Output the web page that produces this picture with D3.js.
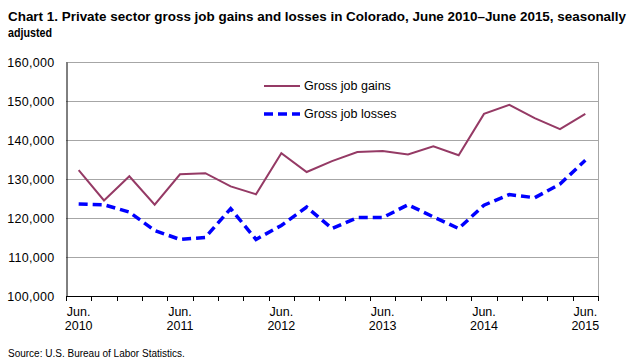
<!DOCTYPE html>
<html>
<head>
<meta charset="utf-8">
<script src="https://cdn.jsdelivr.net/npm/d3@7"></script>
<style>
  body { margin: 0; background: #fff; }
  svg { font-family: "Liberation Sans", Arial, sans-serif; }
</style>
</head>
<body>
<svg id="chart" width="640" height="364"></svg>
<script>
// quarters, June 2010 to June 2015
const quarters = ["Jun. 2010", "Sep. 2010", "Dec. 2010", "Mar. 2011", "Jun. 2011", "Sep. 2011", "Dec. 2011",
  "Mar. 2012", "Jun. 2012", "Sep. 2012", "Dec. 2012", "Mar. 2013", "Jun. 2013", "Sep. 2013", "Dec. 2013",
  "Mar. 2014", "Jun. 2014", "Sep. 2014", "Dec. 2014", "Mar. 2015", "Jun. 2015"]
const gains = [132300, 124500, 130700, 123400, 131200, 131500, 128100, 126100, 136600, 131800, 134600,
  136900, 137200, 136300, 138400, 136100, 146700, 149000, 145600, 142800, 146700]
const losses = [123600, 123400, 121500, 116800, 114500, 115000, 122400, 114500, 118100, 122800, 117300,
  120100, 120100, 123400, 120300, 117300, 123300, 126000, 125200, 128700, 134800]
const yTicks = [100000, 110000, 120000, 130000, 140000, 150000, 160000]

const svg = d3.select('#chart')
const plotLeft = 66, plotRight = 598, plotTop = 62, plotBottom = 296

const x = d3.scaleBand().domain(quarters).range([plotLeft, plotRight])
const y = d3.scaleLinear().domain([100000, 160000]).range([plotBottom, plotTop])
const cx = d => x(d) + x.bandwidth() / 2

// title
svg.append('text').attr('x', 8).attr('y', 21)
  .attr('font-size', 13).attr('font-weight', 'bold')
  .attr('textLength', 618).attr('lengthAdjust', 'spacingAndGlyphs')
  .text('Chart 1. Private sector gross  job gains and losses  in Colorado, June 2010–June  2015, seasonally')
svg.append('text').attr('x', 8).attr('y', 37)
  .attr('font-size', 13).attr('font-weight', 'bold')
  .attr('textLength', 44).attr('lengthAdjust', 'spacingAndGlyphs')
  .text('adjusted')

// grid lines
svg.append('g').selectAll('line').data(yTicks.slice(1)).join('line')
  .attr('x1', plotLeft).attr('x2', plotRight)
  .attr('y1', d => y(d) + 0.5).attr('y2', d => y(d) + 0.5)
  .attr('stroke', '#a6a6a6').attr('stroke-width', 1)
// right frame
svg.append('line').attr('x1', plotRight + 0.5).attr('x2', plotRight + 0.5).attr('y1', plotTop).attr('y2', plotBottom)
  .attr('stroke', '#a6a6a6')

// y axis
const yAxis = svg.append('g').attr('transform', `translate(${plotLeft + 0.5},0)`)
  .call(d3.axisLeft(y).tickValues(yTicks).tickSize(0).tickPadding(12).tickFormat(d3.format(',')))
yAxis.select('.domain').attr('stroke', '#000')
yAxis.selectAll('text').attr('font-size', 12.5).attr('fill', '#000')
  .attr('font-family', '"Liberation Sans", Arial, sans-serif')
  .attr('letter-spacing', 0.3)

// x axis: ticks on band edges
const xg = svg.append('g')
xg.append('line').attr('x1', plotLeft).attr('x2', plotRight + 1).attr('y1', plotBottom + 0.5).attr('y2', plotBottom + 0.5)
  .attr('stroke', '#000')
const edges = quarters.map(q => x(q)).concat([plotRight])
xg.selectAll('line.tick').data(edges).join('line').attr('class', 'tick')
  .attr('x1', d => Math.round(d) + 0.5).attr('x2', d => Math.round(d) + 0.5)
  .attr('y1', plotBottom).attr('y2', plotBottom + 5).attr('stroke', '#000')
const labelled = quarters.filter((q, i) => i % 4 === 0)
labelled.forEach(q => {
  const parts = q.split(' ')
  const t = xg.append('text').attr('text-anchor', 'middle').attr('font-size', 12.5).attr('fill', '#000')
  t.append('tspan').attr('x', cx(q)).attr('y', 316).text(parts[0])
  t.append('tspan').attr('x', cx(q)).attr('y', 330).text(parts[1])
})

// lines
const line = d3.line().x((d, i) => cx(quarters[i])).y(d => y(d))
svg.append('path').datum(gains).attr('d', line)
  .attr('fill', 'none').attr('stroke', '#953a65').attr('stroke-width', 2)
svg.append('path').datum(losses).attr('d', line)
  .attr('fill', 'none').attr('stroke', '#0000ff').attr('stroke-width', 3.5)
  .attr('stroke-dasharray', '9,5')

// legend
const legend = [
  { name: 'Gross job gains', color: '#953a65', w: 2, dash: null, yy: 86 },
  { name: 'Gross job losses', color: '#0000ff', w: 3.5, dash: '9,5', yy: 114 }
]
legend.forEach(l => {
  svg.append('line').attr('x1', 264).attr('x2', 300).attr('y1', l.yy).attr('y2', l.yy)
    .attr('stroke', l.color).attr('stroke-width', l.w).attr('stroke-dasharray', l.dash)
  svg.append('text').attr('x', 304).attr('y', l.yy + 4).attr('font-size', 12.5).attr('fill', '#000').text(l.name)
})

// source
svg.append('text').attr('x', 8).attr('y', 357).attr('font-size', 10).attr('fill', '#000')
  .text('Source: U.S. Bureau of Labor Statistics.')
</script>
</body>
</html>
